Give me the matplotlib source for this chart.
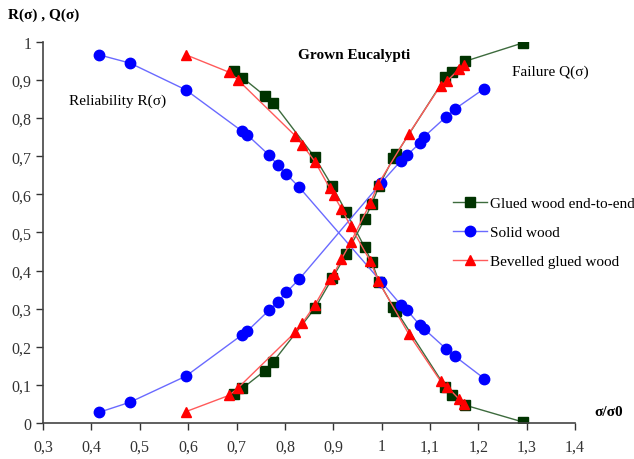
import matplotlib
matplotlib.use("Agg")
import matplotlib.pyplot as plt
from matplotlib.ticker import FuncFormatter

plt.rcParams['font.family'] = ['Liberation Serif', 'DejaVu Serif']

# Glued wood end-to-end
glued_x = [0.694, 0.712, 0.758, 0.776, 0.862, 0.898, 0.927, 0.965, 0.980, 0.995,
           1.024, 1.030, 1.132, 1.146, 1.173, 1.292]
glued_q = [0.076, 0.091, 0.137, 0.161, 0.301, 0.380, 0.443, 0.535, 0.575, 0.623,
           0.695, 0.705, 0.907, 0.922, 0.949, 0.997]
glued_r = [0.923, 0.906, 0.859, 0.840, 0.697, 0.621, 0.553, 0.461, 0.422, 0.369,
           0.305, 0.295, 0.094, 0.073, 0.047, 0.003]

# Solid wood
solid_x = [0.415, 0.480, 0.595, 0.712, 0.722, 0.768, 0.785, 0.803, 0.830, 0.999,
           1.040, 1.052, 1.079, 1.088, 1.134, 1.152, 1.212]
solid_q = [0.028, 0.055, 0.123, 0.232, 0.241, 0.297, 0.317, 0.343, 0.378, 0.630,
           0.688, 0.702, 0.734, 0.751, 0.804, 0.824, 0.877]
solid_r = [0.966, 0.944, 0.874, 0.765, 0.756, 0.702, 0.677, 0.653, 0.618, 0.371,
           0.310, 0.297, 0.257, 0.247, 0.194, 0.175, 0.117]

# Bevelled glued wood
bev_x = [0.595, 0.685, 0.702, 0.821, 0.836, 0.862, 0.893, 0.901, 0.917, 0.936,
         0.977, 0.993, 1.056, 1.122, 1.136, 1.160, 1.171]
bev_q = [0.030, 0.073, 0.091, 0.238, 0.262, 0.310, 0.378, 0.391, 0.430, 0.474,
         0.578, 0.627, 0.758, 0.885, 0.898, 0.928, 0.938]
bev_r = [0.966, 0.920, 0.901, 0.754, 0.730, 0.686, 0.616, 0.597, 0.562, 0.516,
         0.424, 0.373, 0.234, 0.110, 0.095, 0.063, 0.050]

x_ticks = [0.3, 0.4, 0.5, 0.6, 0.7, 0.8, 0.9, 1.0, 1.1, 1.2, 1.3, 1.4]
y_ticks = [0, 0.1, 0.2, 0.3, 0.4, 0.5, 0.6, 0.7, 0.8, 0.9, 1.0]

fig = plt.figure(figsize=(6.34, 4.60), dpi=100)
ax = fig.add_axes([0.068, 0.078, 0.839, 0.829])

green_line = '#3d6b3d'
green_mk = '#003300'
blue_line = '#6a6aff'
blue_mk = '#0000ff'
red_line = '#ff5a5a'
red_mk = '#ff0000'

ax.plot(glued_x, glued_q, '-s', color=green_line, lw=1, ms=7,
        mfc=green_mk, mec=green_mk, label='Glued wood end-to-end')
ax.plot(glued_x, glued_r, '-s', color=green_line, lw=1, ms=7,
        mfc=green_mk, mec=green_mk)

ax.plot(solid_x, solid_q, '-o', color=blue_line, lw=1, ms=7.5,
        mfc=blue_mk, mec=blue_mk, label='Solid wood')
ax.plot(solid_x, solid_r, '-o', color=blue_line, lw=1, ms=7.5,
        mfc=blue_mk, mec=blue_mk)

ax.plot(bev_x, bev_q, '-^', color=red_line, lw=1, ms=7.5,
        mfc=red_mk, mec=red_mk, label='Bevelled glued wood')
ax.plot(bev_x, bev_r, '-^', color=red_line, lw=1, ms=7.5,
        mfc=red_mk, mec=red_mk)

ax.set_xlim(0.3, 1.4)
ax.set_ylim(0, 1)
ax.set_xticks(x_ticks)
ax.set_yticks(y_ticks)

def comma(v, pos):
    s = ('%.1f' % v).rstrip('0').rstrip('.')
    return s.replace('.', ',')

ax.xaxis.set_major_formatter(FuncFormatter(comma))
ax.yaxis.set_major_formatter(FuncFormatter(comma))
ax.tick_params(direction='out', length=5, width=1, labelsize=11.5, colors='#333333')
ax.tick_params(axis='x', pad=6)

for s in ['top', 'right']:
    ax.spines[s].set_visible(False)
for s in ['left', 'bottom']:
    ax.spines[s].set_color('#444444')
    ax.spines[s].set_linewidth(1.2)

fig.text(0.013, 0.967, 'R(σ) , Q(σ)', fontsize=11, fontweight='bold', va='center')
fig.text(0.96, 0.104, 'σ/σ0', fontsize=11, fontweight='bold', ha='center', va='center')
fig.text(0.558, 0.88, 'Grown Eucalypti', fontsize=11, fontweight='bold', ha='center', va='center')
fig.text(0.868, 0.843, 'Failure Q(σ)', fontsize=11, ha='center', va='center')
fig.text(0.186, 0.78, 'Reliability R(σ)', fontsize=11, ha='center', va='center')

ax.legend(loc='center left', bbox_to_anchor=(0.745, 0.50), frameon=False,
          fontsize=11, handlelength=2.2, handletextpad=0.2, labelspacing=1.0)

fig.savefig('out.png', dpi=100)
